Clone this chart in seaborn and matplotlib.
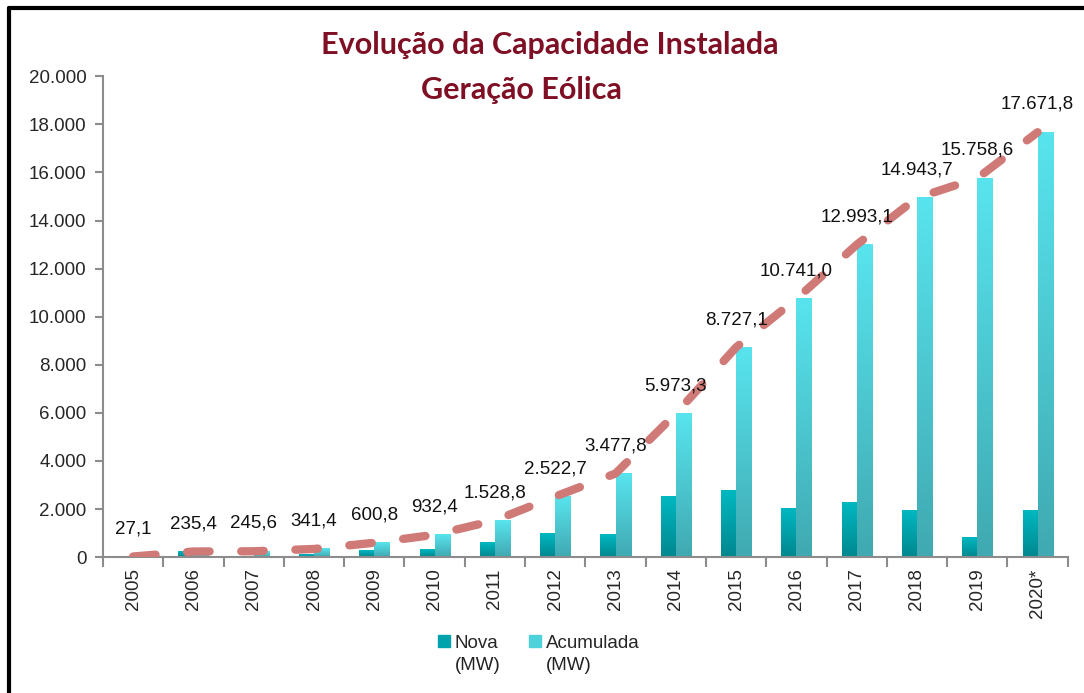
import matplotlib
matplotlib.use('Agg')
import matplotlib.pyplot as plt
from matplotlib.lines import Line2D
from matplotlib.patches import Patch
from matplotlib.colors import LinearSegmentedColormap, to_hex
import numpy as np
import pandas as pd
import seaborn as sns

# data
anos = ['2005', '2006', '2007', '2008', '2009', '2010', '2011', '2012',
        '2013', '2014', '2015', '2016', '2017', '2018', '2019', '2020*']
nova = [27.1, 208.3, 10.2, 95.8, 259.4, 331.6, 596.4, 993.9,
        955.1, 2495.5, 2753.8, 2013.9, 2252.1, 1950.6, 814.9, 1913.2]
acumulada = [27.1, 235.4, 245.6, 341.4, 600.8, 932.4, 1528.8, 2522.7,
             3477.8, 5973.3, 8727.1, 10741.0, 12993.1, 14943.7, 15758.6, 17671.8]
series = ['Nova', 'Acumulada']


def fmt_br(v, dec=0):
    s = f'{v:,.{dec}f}'
    return s.replace(',', 'X').replace('.', ',').replace('X', '.')


sns.set_theme(style='white')
plt.rcParams['font.family'] = ['Liberation Sans', 'DejaVu Sans']

df = pd.DataFrame({
    'ano': anos * 2,
    'valor': nova + acumulada,
    'serie': [series[0]] * len(anos) + [series[1]] * len(anos),
})

cor_nova = '#00A3AB'
cor_acum = '#4DD2DC'
cor_linha = '#D07A78'
cor_eixo = '#8C8C8C'
grad_nova = LinearSegmentedColormap.from_list('nova', ['#00878F', '#00B8C1'])
grad_acum = LinearSegmentedColormap.from_list('acum', ['#40A9B1', '#58E4EE'])

fig = plt.figure(figsize=(10.84, 6.93), dpi=100)
ax = fig.add_axes([0.095, 0.196, 0.89, 0.694])

sns.barplot(data=df, x='ano', y='valor', hue='serie', order=anos,
            palette=[cor_nova, cor_acum], width=0.5, saturation=1,
            linewidth=0, legend=False, ax=ax)

# vertical gradient fill for every bar (as in the original Excel chart)
grad = np.linspace(0, 1, 100).reshape(-1, 1)
for p in list(ax.patches):
    x0, y0 = p.get_x(), p.get_y()
    w, h = p.get_width(), p.get_height()
    if h <= 0:
        continue
    cmap = grad_nova if to_hex(p.get_facecolor()).lower() == cor_nova.lower() else grad_acum
    ax.imshow(grad, extent=[x0, x0 + w, y0, y0 + h], origin='lower',
              aspect='auto', cmap=cmap, zorder=2)
    p.set_visible(False)

# dashed trend line through accumulated capacity
ax.plot(range(len(anos)), acumulada, color=cor_linha, lw=6,
        dashes=(2.7, 3.8), dash_capstyle='round', zorder=4)

for i, v in enumerate(acumulada):
    ax.annotate(fmt_br(v, 1), (i, v), xytext=(0, 20), textcoords='offset points',
                ha='center', va='center', fontsize=13.5, color='#111111', zorder=5)

ax.set_xlim(-0.5, len(anos) - 0.5)
ax.set_ylim(0, 20000)
ax.set_yticks(range(0, 20001, 2000))
ax.set_yticklabels([fmt_br(t) for t in range(0, 20001, 2000)], fontsize=13.5)
ax.set_xticks(range(len(anos)))
ax.set_xticklabels(anos, rotation=90, fontsize=13.5)
ax.set_xticks([i - 0.5 for i in range(len(anos) + 1)], minor=True)
ax.tick_params(axis='x', which='major', length=0, pad=8)
ax.tick_params(axis='x', which='minor', length=7, color=cor_eixo, width=1.5,
               direction='out', bottom=True)
ax.tick_params(axis='y', length=6, color=cor_eixo, width=1.5, direction='out',
               left=True, pad=6)
ax.set_xlabel('')
ax.set_ylabel('')
for side in ['top', 'right']:
    ax.spines[side].set_visible(False)
for side in ['left', 'bottom']:
    ax.spines[side].set_color(cor_eixo)
    ax.spines[side].set_linewidth(1.5)

handles = [Patch(color=cor_nova), Patch(color=cor_acum)]
leg = fig.legend(handles, series, loc='center', bbox_to_anchor=(0.497, 0.072),
                 ncol=2, frameon=False, fontsize=13.5, handlelength=0.65,
                 handleheight=0.65, handletextpad=0.25, columnspacing=1.6)

# second line "(MW)" under each legend entry, left aligned with the label
fig.canvas.draw()
inv = fig.transFigure.inverted()
for t in leg.get_texts():
    bb = t.get_window_extent()
    (fx0, fy0) = inv.transform((bb.x0, bb.y0))
    fig.text(fx0, fy0 - 0.008, '(MW)', ha='left', va='top', fontsize=13.5,
             color='#222222')

fig.text(0.507, 0.935, 'Evolução da Capacidade Instalada', ha='center',
         va='center', fontsize=22, fontweight='bold', color='#7F0F24',
         family=['Lato', 'DejaVu Sans'])
fig.text(0.481, 0.870, 'Geração Eólica', ha='center', va='center',
         fontsize=22, fontweight='bold', color='#7F0F24',
         family=['Lato', 'DejaVu Sans'])

# black frame at top and left as in the source screenshot
fig.add_artist(Line2D([0.008, 1.0], [0.988, 0.988], color='black', lw=3,
                      transform=fig.transFigure))
fig.add_artist(Line2D([0.008, 0.008], [0.0, 0.988], color='black', lw=3,
                      transform=fig.transFigure))

fig.savefig('out.png', dpi=100)
